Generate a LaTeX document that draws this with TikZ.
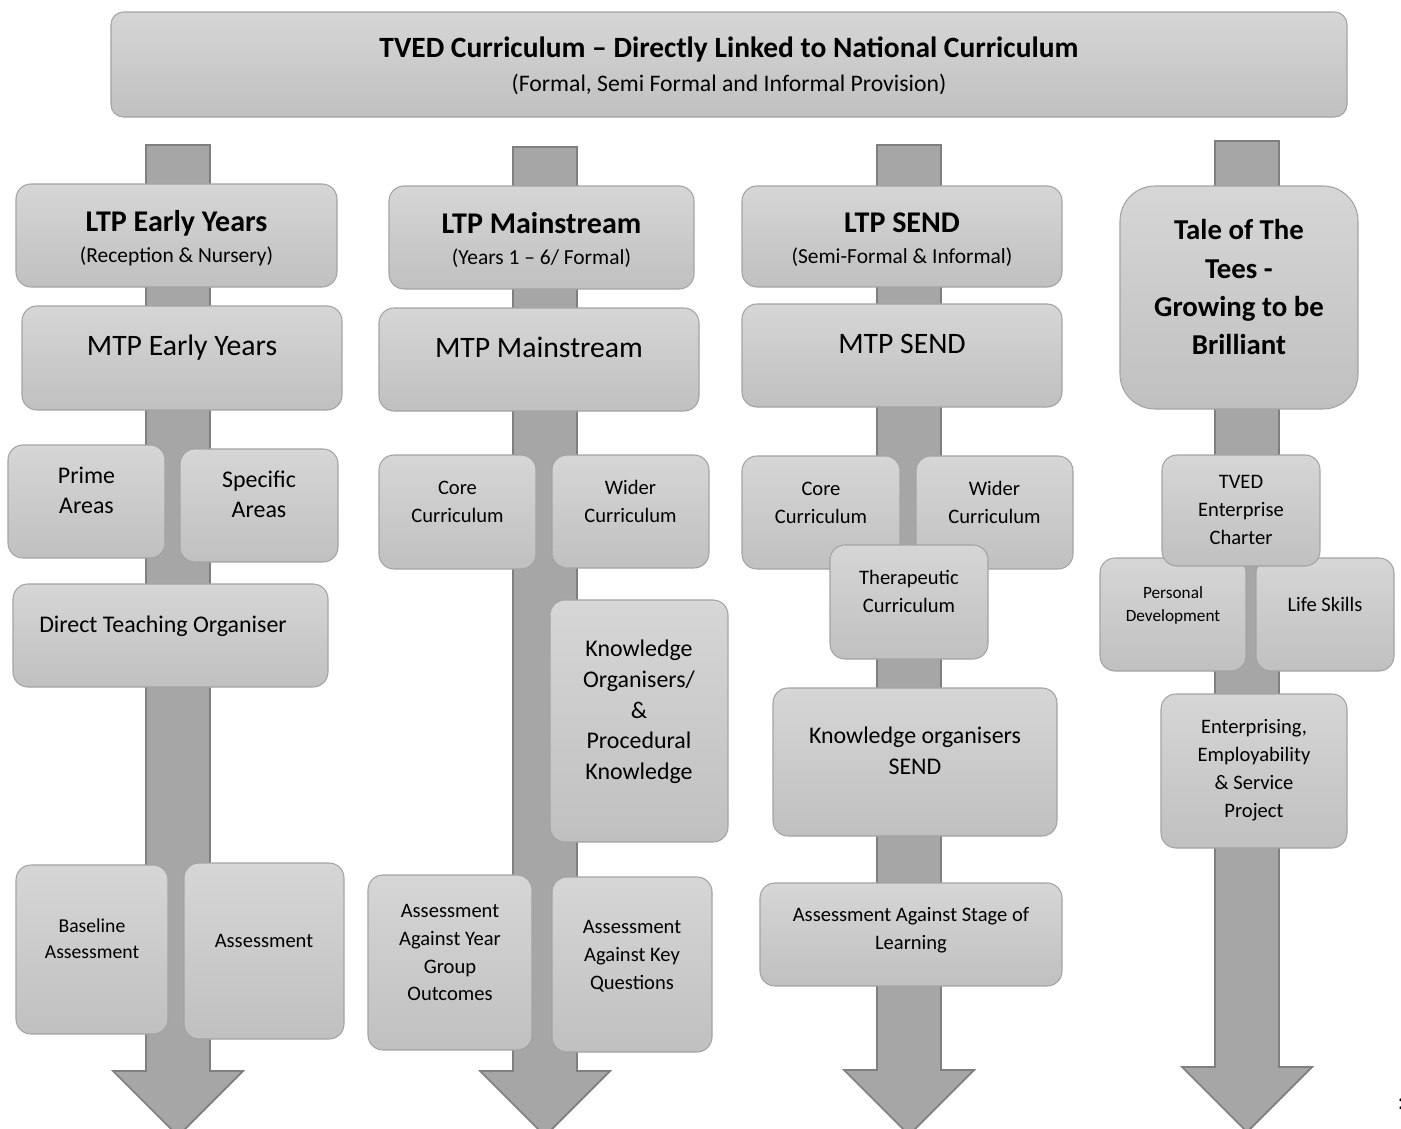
\documentclass[tikz,border=0pt]{standalone}
\usepackage{fontspec}
\setmainfont{Carlito}
\usepackage{xcolor}
\usepackage{tikz}
\definecolor{bordaCaixa}{HTML}{A3A3A3}
\definecolor{fundoTopo}{HTML}{D6D6D6}
\definecolor{fundoBase}{HTML}{C0C0C0}
\definecolor{corSeta}{HTML}{A6A6A6}
\definecolor{bordaSeta}{HTML}{7F7F7F}
\newcommand{\fTitulo}{\fontsize{16.75}{19.4}\selectfont\bfseries}
\newcommand{\fSub}{\fontsize{13.5}{19.4}\selectfont}
\newcommand{\fLTP}{\fontsize{17.1}{18}\selectfont\bfseries}
\newcommand{\fLTPsub}{\fontsize{12.2}{18}\selectfont}
\newcommand{\fMTP}{\fontsize{16.9}{19}\selectfont}
\newcommand{\fNormal}{\fontsize{11.7}{15.9}\selectfont}
\newcommand{\fMedio}{\fontsize{13.6}{17.4}\selectfont}
\newcommand{\fBase}{\fontsize{11.2}{14.7}\selectfont}
\newcommand{\fPequena}{\fontsize{9.8}{13}\selectfont}
\newcommand{\fConto}{\fontsize{16.4}{21.8}\selectfont\bfseries}
% texto centrado, um pouco acima do meio da caixa
\newcommand{\rotulo}[2][0.18cm]{\raisebox{#1}[\height][\depth]{\begin{tabular}{@{}c@{}}#2\end{tabular}}}
\tikzset{
  bloco/.style={draw=bordaCaixa, line width=0.6pt, rounded corners=#1, top color=fundoTopo, bottom color=fundoBase, inner sep=0pt, font=\fNormal},
  bloco/.default=0.3cm,
  tam/.style 2 args={minimum width=#1*0.02cm, minimum height=#2*0.02cm},
  seta/.style={fill=corSeta, draw=bordaSeta, line width=1pt, line join=miter},
}
\begin{document}
\begin{tikzpicture}[x=0.02cm, y=-0.02cm]
  \useasboundingbox (0,0) rectangle (1401,1129);
  % setas grossas por tras
  \foreach \cx/\topo/\cab in {178/145/1071, 545/147/1071, 909/145/1070, 1247/141/1067}
    \draw[seta] (\cx-32,\topo) -- (\cx+32,\topo) -- (\cx+32,\cab) -- (\cx+65,\cab) -- (\cx,\cab+65) -- (\cx-65,\cab) -- (\cx-32,\cab) -- cycle;

  \node[bloco=0.25cm, tam={1236}{105}, font=\fSub] (tved) at (729,64.5) {\rotulo[-0.06cm]{{\fTitulo TVED Curriculum -- Directly Linked to National Curriculum}\\(Formal, Semi Formal and Informal Provision)}};

  % early years
  \node[bloco, tam={321}{103}, font=\fLTPsub] (ltpEY) at (176.5,235.5) {\rotulo[-0.1cm]{{\fLTP LTP Early Years}\\(Reception \& Nursery)}};
  \node[bloco, tam={320}{104}, font=\fMTP] (mtpEY) at (182,358) {\rotulo{MTP Early Years}};
  \node[bloco, tam={157}{113}, font=\fMedio] (prime) at (86.5,501.5) {\rotulo{Prime\\Areas}};
  \node[bloco, tam={158}{113}, font=\fMedio] (specific) at (259,505.5) {\rotulo{Specific\\Areas}};
  \node[bloco, tam={315}{103}, font=\fMedio] (dto) at (170.5,635.5) {\rotulo{Direct Teaching Organiser\hspace*{0.3cm}}};
  \node[bloco, tam={152}{169}, font=\fBase] (baseline) at (92,949.5) {\rotulo{Baseline\\Assessment}};
  \node[bloco, tam={160}{176}] (assessEY) at (264,951) {\rotulo{Assessment}};

  % mainstream
  \node[bloco, tam={305}{103}, font=\fLTPsub] (ltpMS) at (541.5,237.5) {\rotulo[-0.1cm]{{\fLTP LTP Mainstream}\\(Years 1 -- 6/ Formal)}};
  \node[bloco, tam={320}{103}, font=\fMTP] (mtpMS) at (539,359.5) {\rotulo{MTP Mainstream}};
  \node[bloco, tam={157}{114}] (coreMS) at (457.5,512) {\rotulo{Core\\Curriculum}};
  \node[bloco, tam={157}{113}] (widerMS) at (630.5,511.5) {\rotulo{Wider\\Curriculum}};
  \node[bloco, tam={178}{242}, font=\fMedio] (knowMS) at (639,721) {\rotulo{Knowledge\\Organisers/\\\&\\Procedural\\Knowledge}};
  \node[bloco, tam={164}{175}] (assessYG) at (450,962.5) {\rotulo{Assessment\\Against Year\\Group\\Outcomes}};
  \node[bloco, tam={160}{175}] (assessKQ) at (632,964.5) {\rotulo{Assessment\\Against Key\\Questions}};

  % send
  \node[bloco, tam={320}{101}, font=\fLTPsub] (ltpSEND) at (902,236.5) {\rotulo[-0.1cm]{{\fLTP LTP SEND}\\(Semi-Formal \& Informal)}};
  \node[bloco, tam={320}{103}, font=\fMTP] (mtpSEND) at (902,355.5) {\rotulo{MTP SEND}};
  \node[bloco, tam={158}{113}] (coreSEND) at (821,512.5) {\rotulo{Core\\Curriculum}};
  \node[bloco, tam={157}{113}] (widerSEND) at (994.5,512.5) {\rotulo{Wider\\Curriculum}};
  \node[bloco, tam={158}{114}] (thera) at (909,602) {\rotulo{Therapeutic\\Curriculum}};
  \node[bloco, tam={284}{148}, font=\fMedio] (knowSEND) at (915,762) {\rotulo{Knowledge organisers\\SEND}};
  \node[bloco, tam={302}{103}] (stage) at (911,934.5) {\rotulo[0.1cm]{Assessment Against Stage of\\Learning}};

  % tale of the tees
  \node[bloco=0.7cm, tam={238}{223}, font=\fConto] (tale) at (1239,297.5) {\rotulo[0.16cm]{Tale of The\\Tees -\\Growing to be\\Brilliant}};
  \node[bloco, tam={146}{113}, font=\fPequena] (personal) at (1173,614.5) {\rotulo{Personal\\Development}};
  \node[bloco, tam={138}{113}] (life) at (1325,614.5) {\rotulo{Life Skills}};
  \node[bloco, tam={158}{111}] (charter) at (1241,510.5) {\rotulo[0pt]{TVED\\Enterprise\\Charter}};
  \node[bloco, tam={186}{154}] (enterp) at (1254,771) {\rotulo[0.02cm]{Enterprising,\\Employability\\\& Service\\Project}};

  \node[font=\fMedio, inner sep=0pt] (marca) at (1401,1104) {:};
\end{tikzpicture}
\end{document}
